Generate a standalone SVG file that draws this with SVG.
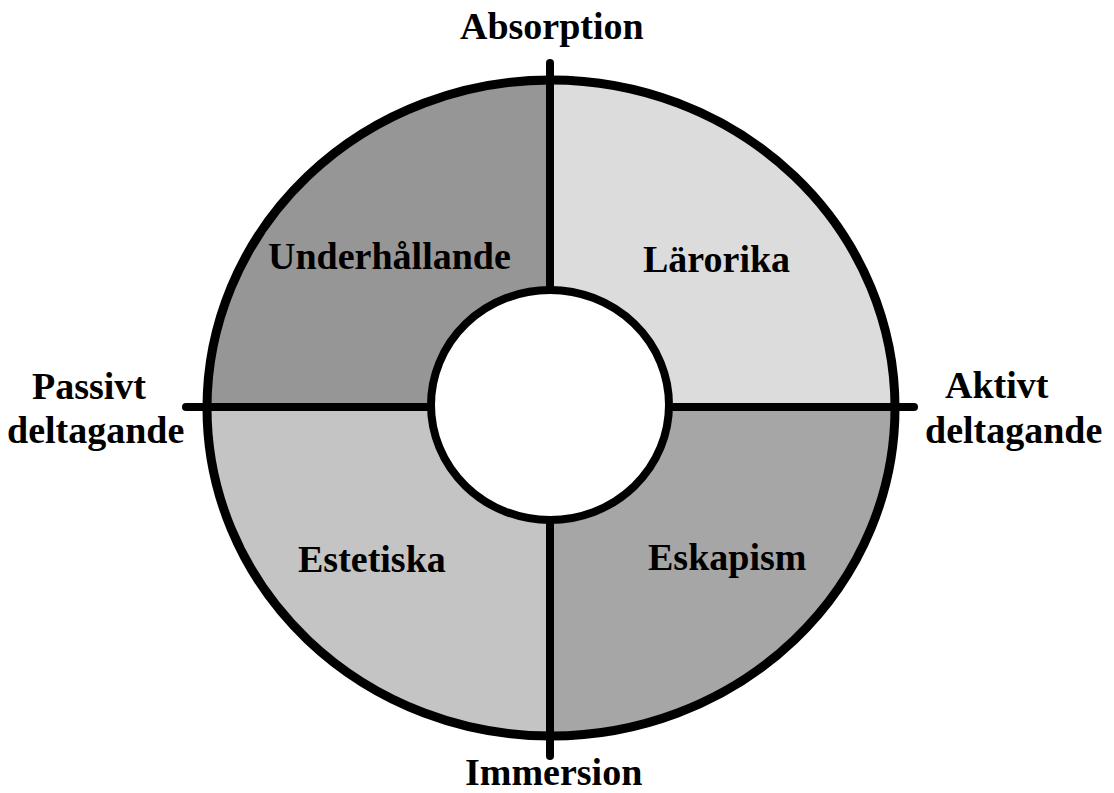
<svg xmlns="http://www.w3.org/2000/svg" width="1114" height="793" viewBox="0 0 1114 793">
<style>
  text { font-family: "Liberation Serif", "Times New Roman", serif; font-weight: bold; font-size: 38px; fill: #000; }
  .edge { stroke: #000; stroke-width: 8; stroke-linecap: round; fill: none; }
</style>
<rect width="1114" height="793" fill="#fff"/>
<g id="quadrant-underhallande">
  <path d="M550,408 L207,408 A344,328 0 0 1 550,80 Z" fill="#969696"/>
  <text x="268" y="269">Underhållande</text>
</g>
<g id="quadrant-lararika">
  <path d="M550,408 L550,80 A344,328 0 0 1 895,408 Z" fill="#dcdcdc"/>
  <text x="643" y="272">Lärorika</text>
</g>
<g id="quadrant-estetiska">
  <path d="M550,408 L550,736 A344,328 0 0 1 207,408 Z" fill="#c4c4c4"/>
  <text x="298" y="572">Estetiska</text>
</g>
<g id="quadrant-eskapism">
  <path d="M550,408 L895,408 A344,328 0 0 1 550,736 Z" fill="#a6a6a6"/>
  <text x="648" y="570">Eskapism</text>
</g>
<g id="outer-ring">
  <ellipse cx="551" cy="408" rx="344" ry="328" fill="none" stroke="#000" stroke-width="9"/>
</g>
<g id="connectors">
  <line class="edge" x1="550" y1="63" x2="550" y2="756"/>
  <line class="edge" x1="186" y1="407" x2="914" y2="407"/>
</g>
<g id="center">
  <ellipse cx="550" cy="405" rx="119" ry="115" fill="#fff" stroke="#000" stroke-width="8"/>
</g>
<g id="axis-labels">
  <text x="460" y="39">Absorption</text>
  <text x="465" y="785">Immersion</text>
  <text x="32" y="399">Passivt</text>
  <text x="7" y="443">deltagande</text>
  <text x="945" y="398">Aktivt</text>
  <text x="925" y="443">deltagande</text>
</g>
</svg>
